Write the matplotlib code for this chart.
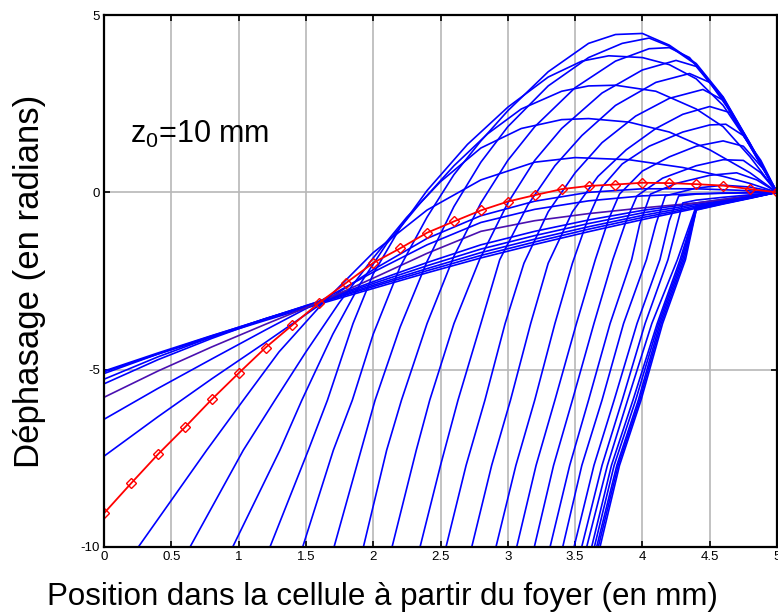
import matplotlib
matplotlib.use("Agg")
import matplotlib.pyplot as plt

plt.rcParams["font.family"] = ["Liberation Sans", "DejaVu Sans"]
plt.rcParams["mathtext.fontset"] = "custom"
plt.rcParams["mathtext.rm"] = "Liberation Sans"

# --- red reference curve (markers every 0.2 mm) ---
red_x = [0, 0.2, 0.4, 0.6, 0.8, 1.0, 1.2, 1.4, 1.6, 1.8, 2.0, 2.2, 2.4,
         2.6, 2.8, 3.0, 3.2, 3.4, 3.6, 3.8, 4.0, 4.2, 4.4, 4.6, 4.8, 5.0]
red_y = [-9.05, -8.21, -7.39, -6.63, -5.84, -5.10, -4.38, -3.74, -3.11, -2.55,
         -1.99, -1.58, -1.14, -0.82, -0.51, -0.26, -0.08, 0.09, 0.18, 0.22,
         0.27, 0.26, 0.23, 0.19, 0.09, 0.0]

# --- blue curves starting on the left edge ---
lx = [0, 0.4, 0.8, 1.2, 1.6, 2.0, 2.4, 2.8, 3.2, 3.6, 4.0, 4.4, 4.7, 5.0]
l1 = [-5.06, -4.56, -4.08, -3.61, -3.15, -2.71, -2.27, -1.85, -1.47, -1.11, -0.77, -0.45, -0.22, 0]
l2 = [-5.04, -4.53, -4.04, -3.57, -3.12, -2.66, -2.21, -1.78, -1.40, -1.04, -0.71, -0.42, -0.21, 0]
l3 = [-5.11, -4.56, -4.05, -3.56, -3.10, -2.62, -2.15, -1.70, -1.32, -0.97, -0.65, -0.38, -0.19, 0]
l4 = [-5.27, -4.64, -4.08, -3.56, -3.08, -2.57, -2.07, -1.60, -1.22, -0.88, -0.58, -0.34, -0.17, 0]
l5 = [-5.40, -4.72, -4.12, -3.57, -3.07, -2.52, -1.98, -1.48, -1.10, -0.78, -0.51, -0.30, -0.15, 0]
l6 = [-5.78, -5.04, -4.36, -3.72, -3.10, -2.42, -1.72, -1.10, -0.80, -0.60, -0.44, -0.30, -0.15, 0]
l7 = [-6.40, -5.53, -4.70, -3.88, -3.08, -2.25, -1.48, -0.85, -0.48, -0.24, -0.10, -0.04, -0.02, 0]
l8 = [-7.44, -6.33, -5.26, -4.23, -3.18, -2.18, -1.30, -0.66, -0.25, 0.00, 0.10, 0.10, 0.06, 0]

# --- blue curves entering from the bottom: early arches ---
a01_x = [0.255, 0.763, 1.035, 1.3, 1.62, 2.0, 2.4, 2.8, 3.2, 3.5, 3.9, 4.3, 4.6, 4.8, 5.0]
a01_y = [-10, -7.27, -5.86, -4.5, -3.15, -1.7, -0.5, 0.35, 0.85, 0.98, 0.92, 0.7, 0.45, 0.25, 0]
a02_x = [0.639, 1.035, 1.27, 1.5, 1.75, 2.0, 2.25, 2.5, 2.8, 3.1, 3.4, 3.6, 3.9, 4.2, 4.5, 4.8, 5.0]
a02_y = [-10, -7.27, -5.86, -4.5, -3.1, -1.85, -0.7, 0.3, 1.25, 1.8, 2.05, 2.08, 1.98, 1.7, 1.2, 0.55, 0]
a03_x = [0.956, 1.307, 1.47, 1.7, 1.9, 2.1, 2.35, 2.6, 2.85, 3.1, 3.4, 3.6, 3.8, 4.1, 4.4, 4.6, 4.8, 5.0]
a03_y = [-10, -7.27, -5.86, -4.0, -2.6, -1.45, -0.3, 0.75, 1.65, 2.35, 2.85, 3.0, 3.02, 2.85, 2.35, 1.85, 1.0, 0]
a04_x = [1.233, 1.518, 1.66, 1.85, 2.0, 2.2, 2.4, 2.7, 3.0, 3.3, 3.55, 3.75, 4.0, 4.2, 4.4, 4.6, 4.8, 5.0]
a04_y = [-10, -7.27, -5.86, -3.7, -2.3, -1.0, 0.05, 1.35, 2.4, 3.25, 3.7, 3.85, 3.8, 3.6, 3.2, 2.45, 1.32, 0]
a05_x = [1.476, 1.704, 1.845, 2.0, 2.2, 2.4, 2.6, 2.8, 3.0, 3.3, 3.6, 3.8, 4.0, 4.2, 4.4, 4.6, 4.8, 5.0]
a05_y = [-10, -7.27, -5.86, -4.0, -2.1, -0.7, 0.5, 1.45, 2.3, 3.4, 4.2, 4.45, 4.48, 4.15, 3.63, 2.69, 1.38, 0]

# --- steep blue curves entering from the bottom ---
a06_x = [1.709, 1.91, 2.014, 2.2, 2.4, 2.6, 2.8, 3.0, 3.3, 3.6, 3.85, 4.05, 4.2, 4.4, 4.6, 4.8, 5.0]
a06_y = [-10, -7.27, -5.86, -3.8, -1.95, -0.4, 0.85, 1.85, 3.0, 3.8, 4.2, 4.35, 4.12, 3.6, 2.67, 1.37, 0]
a07_x = [1.927, 2.1, 2.21, 2.4, 2.6, 2.8, 3.0, 3.2, 3.5, 3.8, 4.05, 4.2, 4.35, 4.6, 4.8, 5.0]
a07_y = [-10, -7.27, -5.86, -3.7, -1.8, -0.3, 0.9, 1.85, 2.95, 3.7, 4.05, 4.08, 3.8, 2.65, 1.36, 0]
a08_x = [2.14, 2.32, 2.42, 2.6, 2.79, 3.0, 3.2, 3.4, 3.7, 4.0, 4.25, 4.4, 4.6, 4.8, 5.0]
a08_y = [-10, -7.27, -5.86, -3.7, -1.9, -0.3, 0.9, 1.8, 2.8, 3.45, 3.72, 3.55, 2.63, 1.35, 0]
a09_x = [2.348, 2.5, 2.63, 2.8, 2.94, 3.15, 3.35, 3.55, 3.8, 4.1, 4.35, 4.5, 4.65, 4.8, 5.0]
a09_y = [-10, -7.7, -5.86, -3.7, -1.9, -0.35, 0.75, 1.6, 2.45, 3.1, 3.35, 3.1, 2.3, 1.33, 0]
a10_x = [2.541, 2.69, 2.83, 2.98, 3.12, 3.3, 3.5, 3.7, 3.95, 4.2, 4.45, 4.6, 4.8, 5.0]
a10_y = [-10, -7.7, -5.86, -3.7, -2.0, -0.55, 0.55, 1.4, 2.15, 2.65, 2.9, 2.6, 1.3, 0]
a11_x = [2.732, 2.88, 3.02, 3.17, 3.3, 3.48, 3.67, 3.88, 4.1, 4.3, 4.5, 4.65, 4.8, 5.0]
a11_y = [-10, -7.7, -5.86, -3.7, -2.0, -0.55, 0.45, 1.2, 1.8, 2.2, 2.42, 2.25, 1.3, 0]
a12_x = [2.912, 3.06, 3.2, 3.35, 3.48, 3.6, 3.7, 3.85, 4.05, 4.3, 4.5, 4.62, 4.75, 4.88, 5.0]
a12_y = [-10, -7.7, -5.86, -3.7, -2.0, -0.7, 0.15, 0.8, 1.3, 1.7, 1.9, 1.92, 1.6, 0.9, 0]
a13_x = [3.066, 3.21, 3.35, 3.51, 3.65, 3.75, 3.83, 4.0, 4.2, 4.4, 4.6, 4.75, 4.9, 5.0]
a13_y = [-10, -7.7, -5.86, -3.7, -1.9, -0.75, -0.05, 0.6, 1.0, 1.3, 1.45, 1.3, 0.65, 0]
a14_x = [3.197, 3.34, 3.48, 3.64, 3.78, 3.88, 3.96, 4.15, 4.4, 4.6, 4.75, 4.88, 5.0]
a14_y = [-10, -7.7, -5.86, -3.7, -1.9, -0.8, -0.1, 0.4, 0.75, 0.92, 0.9, 0.55, 0]
a15_x = [3.314, 3.46, 3.6, 3.76, 3.92, 3.98, 4.06, 4.25, 4.5, 4.7, 4.85, 5.0]
a15_y = [-10, -7.7, -5.86, -3.7, -1.9, -0.9, -0.05, 0.25, 0.48, 0.55, 0.35, 0]
a16_x = [3.408, 3.55, 3.7, 3.86, 4.03, 4.1, 4.17, 4.4, 4.6, 4.8, 5.0]
a16_y = [-10, -7.7, -5.86, -3.7, -1.9, -0.9, -0.1, 0.12, 0.2, 0.15, 0]
a17_x = [3.492, 3.64, 3.79, 3.96, 4.13, 4.2, 4.27, 4.4, 4.6, 4.8, 5.0]
a17_y = [-10, -7.7, -5.86, -3.7, -1.9, -0.8, -0.1, -0.05, -0.02, -0.01, 0]
a18_x = [3.549, 3.70, 3.85, 4.02, 4.19, 4.3, 4.4, 4.6, 4.8, 5.0]
a18_y = [-10, -7.7, -5.86, -3.7, -1.9, -0.3, -0.22, -0.14, -0.07, 0]
a19_x = [3.586, 3.74, 3.89, 4.07, 4.26, 4.4, 4.6, 4.8, 5.0]
a19_y = [-10, -7.7, -5.86, -3.7, -1.9, -0.38, -0.25, -0.12, 0]
a20_x = [3.623, 3.77, 3.93, 4.11, 4.28, 4.4, 4.6, 4.8, 5.0]
a20_y = [-10, -7.7, -5.86, -3.7, -1.9, -0.42, -0.28, -0.14, 0]
a21_x = [3.643, 3.79, 3.95, 4.12, 4.29, 4.4, 4.6, 4.8, 5.0]
a21_y = [-10, -7.7, -5.86, -3.7, -1.9, -0.45, -0.30, -0.15, 0]
a22_x = [3.660, 3.81, 3.97, 4.13, 4.30, 4.4, 4.6, 4.8, 5.0]
a22_y = [-10, -7.7, -5.86, -3.7, -1.9, -0.47, -0.31, -0.16, 0]
a23_x = [3.672, 3.82, 3.98, 4.14, 4.31, 4.4, 4.6, 4.8, 5.0]
a23_y = [-10, -7.7, -5.86, -3.7, -1.9, -0.49, -0.32, -0.16, 0]
a24_x = [3.685, 3.83, 3.99, 4.15, 4.32, 4.4, 4.6, 4.8, 5.0]
a24_y = [-10, -7.7, -5.86, -3.7, -1.9, -0.50, -0.33, -0.17, 0]

left_curves = [l1, l2, l3, l4, l5, l7, l8]
bottom_curves = [
    (a01_x, a01_y), (a02_x, a02_y), (a03_x, a03_y), (a04_x, a04_y),
    (a05_x, a05_y), (a06_x, a06_y), (a07_x, a07_y), (a08_x, a08_y),
    (a09_x, a09_y), (a10_x, a10_y), (a11_x, a11_y), (a12_x, a12_y),
    (a13_x, a13_y), (a14_x, a14_y), (a15_x, a15_y), (a16_x, a16_y),
    (a17_x, a17_y), (a18_x, a18_y), (a19_x, a19_y), (a20_x, a20_y),
    (a21_x, a21_y), (a22_x, a22_y), (a23_x, a23_y), (a24_x, a24_y),
]

x_ticks = [0, 0.5, 1, 1.5, 2, 2.5, 3, 3.5, 4, 4.5, 5]
x_tick_labels = ["0", "0.5", "1", "1.5", "2", "2.5", "3", "3.5", "4", "4.5", "5"]
y_ticks = [-10, -5, 0, 5]
y_tick_labels = ["-10", "-5", "0", "5"]

fig = plt.figure(figsize=(7.78, 6.15), dpi=100)
ax = fig.add_axes([0.1337, 0.1106, 0.865, 0.865])

blue = "#0000ff"
for y in left_curves:
    ax.plot(lx, y, color=blue, lw=1.2)
ax.plot(lx, l6, color="#4a10b0", lw=1.2)
for xs, ys in bottom_curves:
    ax.plot(xs, ys, color=blue, lw=1.2)

ax.plot(red_x, red_y, color="red", lw=1.3, marker="D", ms=5.5, mfc="none",
        mec="red", mew=1.0)

ax.set_xlim(0, 5)
ax.set_ylim(-10, 5)
ax.set_xticks(x_ticks)
ax.set_xticklabels(x_tick_labels)
ax.set_yticks(y_ticks)
ax.set_yticklabels(y_tick_labels)
ax.grid(True, color="#b8b8b8", lw=1.2)
ax.set_axisbelow(True)
ax.tick_params(direction="in", top=True, right=True, labelsize=9.5,
               length=4, width=1.2, pad=3)
for sp in ax.spines.values():
    sp.set_linewidth(1.6)

# the x label sits left of the axes centre in the original figure
ax.set_xlabel("Position dans la cellule à partir du foyer (en mm)", fontsize=22.5,
              va="baseline")
ax.xaxis.set_label_coords(0.413, -0.109)
ax.set_ylabel("Déphasage (en radians)", fontsize=25, labelpad=25)
ax.text(0.19, 1.38, r"z$_\mathregular{0}$=10 mm", fontsize=22, va="baseline")

fig.savefig("out.png", dpi=100)
